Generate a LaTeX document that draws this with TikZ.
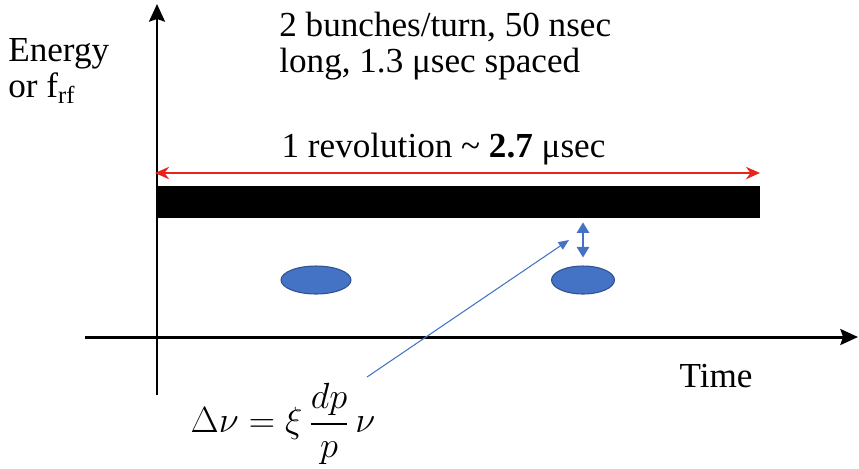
\documentclass[tikz,border=0pt]{standalone}
\usepackage{amsmath}
\usepackage{fontspec}
\setmainfont{Liberation Serif}
\usetikzlibrary{positioning,arrows.meta,shapes.geometric}
\definecolor{bunchblue}{HTML}{4472C4}
\definecolor{bunchedge}{HTML}{2F528F}
\definecolor{revred}{HTML}{E8231D}

\begin{document}
\begin{tikzpicture}[x=0.02cm, y=-0.02cm, font=\fontsize{20}{20.6}\selectfont,
  axis/.style={-{Stealth[length=10pt, width=9pt, inset=1.5pt]}, line width=1.7pt, black},
  rev/.style={{Stealth[length=8pt, width=7pt]}-{Stealth[length=8pt, width=7pt]}, line width=1.4pt, revred},
  bar/.style={fill=black, draw=none, inner sep=0pt},
  bunch/.style={ellipse, fill=bunchblue, draw=bunchedge, line width=0.6pt, inner sep=0pt},
  gap/.style={{Triangle[length=6pt, width=7pt]}-{Triangle[length=6pt, width=7pt]}, line width=1.1pt, bunchblue},
  pointer/.style={-{Triangle[length=6pt, width=5pt]}, line width=0.6pt, bunchblue},
  txt/.style={align=left, inner sep=0pt, text=black}]
\useasboundingbox (0,0) rectangle (859,468);
% axes
\coordinate (ybot) at (157,395);
\coordinate (ytop) at (157,4);
\coordinate (xleft) at (85,337);
\coordinate (xright) at (858,337);
\draw[axis] (ybot) -- (ytop);
\draw[axis] (xleft) -- (xright);
\node[txt, anchor=north west] (ylab) at (8,38) {Energy\\or f\textsubscript{rf}};
\node[txt] (xlab) at (716,376) {Time};
\node[txt, anchor=north west] (info) at (279,12) {2 bunches/turn, 50 nsec\\long, 1.3 μsec spaced};
% one turn
\coordinate (revL) at (155,173);
\coordinate (revR) at (760,173);
\draw[rev] (revL) -- node[txt, above=4pt, xshift=-0.28cm] (revlab) {1 revolution \char`\~{} \textbf{2.7} μsec} (revR);
\node[bar, minimum width=12.06cm, minimum height=0.64cm] (bar) at (458.5,202) {};
% bunches
\node[bunch, minimum width=1.4cm, minimum height=0.56cm] (b1) at (316,280) {};
\node[bunch, minimum width=1.26cm, minimum height=0.56cm] (b2) at (583,280) {};
\draw[gap, shorten <=0.08cm, shorten >=0.16cm] (bar.south -| b2.north) -- (b2.north);
% tune shift
\node[txt] (dnu) at (283,424) {$\Delta\nu = \xi\,\dfrac{dp}{p}\,\nu$};
\coordinate (tail) at (367,377);
\coordinate (tip) at (569,240);
\draw[pointer] (tail) -- (tip);
\end{tikzpicture}
\end{document}
